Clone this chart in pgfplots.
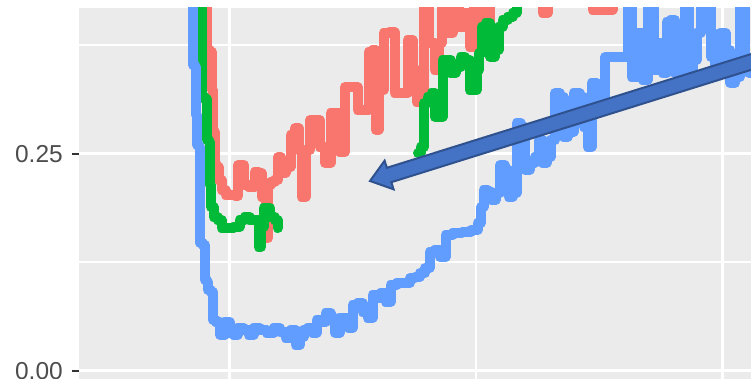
\documentclass[border=0pt]{standalone}
\usepackage{fontspec}
\setmainfont{Liberation Sans}
\usepackage{pgfplots}
\pgfplotsset{compat=1.18}
\definecolor{panel}{HTML}{EBEBEB}
\definecolor{gRed}{HTML}{F8766D}
\definecolor{gGreen}{HTML}{00BA38}
\definecolor{gBlue}{HTML}{619CFF}
\definecolor{arrFill}{HTML}{4472C4}
\definecolor{arrLine}{HTML}{2F528F}
\definecolor{tickcol}{HTML}{333333}
\definecolor{labcol}{HTML}{4D4D4D}
\begin{document}
\begin{tikzpicture}
\path[use as bounding box, clip] (0,0) rectangle (751pt,379pt);
\begin{axis}[
  at={(79pt,-16pt)}, anchor=south west,
  scale only axis, width=672pt, height=387pt,
  xmin=79, xmax=751, ymin=-0.02765, ymax=0.4182,
  axis x line*=bottom, axis y line*=left,
  axis line style={draw=none},
  axis background/.style={fill=panel},
  xtick={229,722}, minor xtick={476}, xticklabels={},
  ytick={0,0.25}, minor ytick={0.125,0.375},
  yticklabels={0.00,0.25},
  grid=both,
  major grid style={white, line width=3pt},
  minor grid style={white, line width=2pt},
  tick align=outside,
  major tick length=7pt, minor tick length=0pt,
  xtick style={draw=none},
  ytick style={color=tickcol, line width=2pt},
  tick label style={font=\fontsize{24.5}{29}\selectfont, color=labcol},
  yticklabel style={inner sep=0pt, anchor=east, xshift=-9pt},
  every axis plot/.append style={line width=10pt, line join=round, line cap=round, mark=none, const plot mark mid},
]
\addplot[gRed] coordinates {
(206,0.4504) (207,0.4182) (207,0.3698) (212,0.3675) (212,0.3237) (213,0.3214)
(213,0.2776) (215,0.2753) (215,0.2396) (217,0.2350) (220,0.2200) (223,0.2085)
(228,0.2028) (233,0.2028) (237,0.2016) (239,0.2373) (243,0.2373) (245,0.2143)
(252,0.2120) (257,0.2292) (260,0.2281) (263,0.2004) (265,0.2004) (267,0.1532)
(269,0.2143) (272,0.2177) (277,0.2200) (279,0.2465) (283,0.2281) (288,0.2350)
(293,0.2719) (297,0.2799) (300,0.2546) (303,0.2004) (308,0.2546) (312,0.2892)
(317,0.2892) (322,0.2580) (328,0.2396) (333,0.2972) (337,0.2972) (342,0.2523)
(348,0.3272) (355,0.3272) (360,0.3007) (367,0.3007) (370,0.3675) (375,0.3698)
(377,0.2776) (380,0.3237) (387,0.3894) (392,0.3905) (397,0.3203) (405,0.3203)
(410,0.3813) (415,0.3468) (418,0.3099) (422,0.3122) (425,0.4332) (432,0.3779)
(437,0.3468) (440,0.3779) (443,0.4332) (450,0.3894) (455,0.4332) (462,0.3963)
(467,0.4124) (472,0.3732) (475,0.4332) (487,0.4009) (492,0.4389) (540,0.4389)
(545,0.4124) (550,0.4389) (590,0.4389) (595,0.4159) (610,0.4159) (615,0.4389)
(700,0.4504)
};
\addplot[gGreen] coordinates {
(201,0.4504) (202,0.4182) (202,0.3156) (207,0.3133) (207,0.2661) (210,0.2638)
(210,0.2143) (212,0.1889) (215,0.1774) (220,0.1740) (223,0.1647) (230,0.1647)
(237,0.1659) (242,0.1740) (247,0.1774) (252,0.1740) (257,0.1740) (260,0.1428)
(262,0.1659) (265,0.1878) (268,0.1878) (272,0.1774) (277,0.1740) (278,0.1647)
};
\addplot[gGreen] coordinates {
(418,0.2511) (423,0.2580) (425,0.3087) (430,0.3156) (433,0.3203) (437,0.2926)
(442,0.2926) (443,0.3583) (448,0.3583) (453,0.3433) (458,0.3502) (463,0.3617)
(467,0.3583) (472,0.3237) (475,0.3237) (478,0.3468) (480,0.3663) (483,0.3963)
(488,0.4009) (492,0.3617) (497,0.3698) (500,0.3963) (505,0.4044) (510,0.4078)
(515,0.4124) (518,0.4389) (530,0.4504)
};
\addplot[gBlue] coordinates {
(192,0.4504) (193,0.4182) (193,0.3525) (196,0.3502) (196,0.2949) (197,0.2926)
(197,0.2604) (200,0.2580) (200,0.1475) (205,0.1452) (205,0.1048) (208,0.1025)
(208,0.0933) (213,0.0910) (213,0.0588) (218,0.0564) (222,0.0415) (227,0.0564)
(232,0.0438) (235,0.0415) (240,0.0495) (247,0.0472) (250,0.0415) (257,0.0495)
(263,0.0472) (270,0.0438) (277,0.0495) (283,0.0449) (288,0.0380) (293,0.0472)
(298,0.0300) (302,0.0392) (305,0.0472) (310,0.0495) (315,0.0438) (318,0.0588)
(323,0.0564) (328,0.0668) (333,0.0611) (337,0.0438) (342,0.0611) (347,0.0611)
(350,0.0495) (355,0.0760) (360,0.0783) (365,0.0680) (370,0.0611) (375,0.0876)
(378,0.0841) (383,0.0899) (388,0.0795) (393,0.0991) (400,0.1014) (407,0.1014)
(413,0.1071) (417,0.1083) (423,0.1129) (427,0.1187) (432,0.1371) (437,0.1394)
(443,0.1313) (448,0.1567) (457,0.1590) (467,0.1601) (475,0.1624) (480,0.1705)
(482,0.1889) (485,0.2085) (490,0.2062) (493,0.1970) (498,0.2051) (502,0.2373)
(507,0.2316) (510,0.2004) (515,0.2051) (518,0.2857) (523,0.2811) (527,0.2316)
(532,0.2396) (537,0.2465) (540,0.2661) (545,0.2396) (548,0.2465) (553,0.2661)
(557,0.3203) (562,0.3156) (565,0.2696) (570,0.2753) (577,0.3203) (582,0.3156)
(585,0.2811) (590,0.2580) (593,0.3318) (600,0.3156) (610,0.3617) (627,0.3617)
(628,0.4389) (635,0.3387) (640,0.3894) (645,0.3352) (650,0.4389) (657,0.3468)
(660,0.3779) (665,0.3433) (668,0.4020) (673,0.4044) (677,0.3433) (682,0.3468)
(687,0.4389) (690,0.3468) (695,0.3583) (698,0.3894) (703,0.4389) (710,0.4389)
(712,0.3617) (717,0.3502) (723,0.3894) (728,0.3698) (732,0.3318) (738,0.3387)
(742,0.4389) (747,0.3502) (751,0.3433) (755,0.3583)
};
\filldraw[fill=arrFill, draw=arrLine, line width=2pt, line join=miter]
  (axis cs:782.6,0.3583) -- (axis cs:391.3,0.2175) -- (axis cs:393.6,0.2093)
  -- (axis cs:370,0.2189) -- (axis cs:384.6,0.2423) -- (axis cs:386.9,0.2341)
  -- (axis cs:778.2,0.3749) -- cycle;
\end{axis}
\end{tikzpicture}
\end{document}
